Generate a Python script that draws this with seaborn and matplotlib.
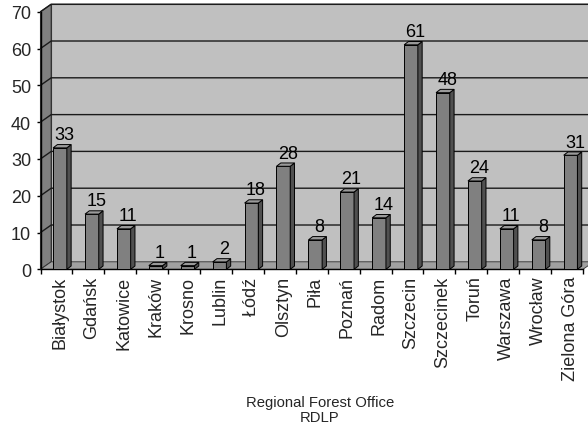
"""Excel-style 3D column chart of counts per Regional Forest Office (RDLP)."""

import matplotlib

matplotlib.use("Agg")

import matplotlib.pyplot as plt
import numpy as np
import pandas as pd
import seaborn as sns
from matplotlib.patches import Polygon

# --- data -----------------------------------------------------------------
offices = [
    "Białystok", "Gdańsk", "Katowice", "Kraków", "Krosno", "Lublin", "Łódź",
    "Olsztyn", "Piła", "Poznań", "Radom", "Szczecin", "Szczecinek", "Toruń",
    "Warszawa", "Wrocław", "Zielona Góra",
]
counts = [33, 15, 11, 1, 1, 2, 18, 28, 8, 21, 14, 61, 48, 24, 11, 8, 31]
y_ticks = [0, 10, 20, 30, 40, 50, 60, 70]
x_title = "Regional Forest Office\nRDLP"

# --- style ----------------------------------------------------------------
BACK_WALL = "#c0c0c0"
SIDE_WALL = "#808080"
FLOOR = "#a0a0a0"
BAR_FRONT = "#808080"
BAR_SIDE = "#505050"
BAR_TOP = "#9a9a9a"
EDGE = "#000000"
FS = 13

sns.set_theme(style="white")
plt.rcParams["font.family"] = ["Liberation Sans", "DejaVu Sans"]

fig = plt.figure(figsize=(5.88, 4.35), dpi=100)
ax = fig.add_axes([0.0689, 0.3786, 0.9226, 0.5922])
ax.patch.set_visible(False)

df = pd.DataFrame({"office": offices, "count": counts})
sns.barplot(
    data=df, x="office", y="count", color=BAR_FRONT, saturation=1,
    width=0.43, edgecolor=EDGE, linewidth=0.7, ax=ax, zorder=5,
)

n = len(offices)
ax.set_xlim(-0.5, n - 0.5)
ax.set_ylim(y_ticks[0], y_ticks[-1])
fig.canvas.draw()


def px_to_data(dx, dy):
    """Convert a pixel offset into data units on this axes."""
    x0, y0 = ax.transData.transform((0, 0))
    x1, y1 = ax.transData.inverted().transform((x0 + dx, y0 + dy))
    return x1, y1


wdx, wdy = px_to_data(10.7, 7.5)   # wall depth
bdx, bdy = px_to_data(4.3, 3.3)    # bar depth
shift = 0.11                       # bars sit a bit right of category centre
left, right = -0.5, n - 0.5
top = y_ticks[-1]

# walls and floor
ax.add_patch(Polygon(
    [(left + wdx, wdy), (right + wdx, wdy), (right + wdx, top + wdy),
     (left + wdx, top + wdy)],
    closed=True, facecolor=BACK_WALL, edgecolor="#303030", lw=0.8,
    zorder=0, clip_on=False,
))
ax.add_patch(Polygon(
    [(left, 0), (left, top), (left + wdx, top + wdy), (left + wdx, wdy)],
    closed=True, facecolor=SIDE_WALL, edgecolor="#303030", lw=0.8,
    zorder=1, clip_on=False,
))
ax.add_patch(Polygon(
    [(left, 0), (right, 0), (right + wdx, wdy), (left + wdx, wdy)],
    closed=True, facecolor=FLOOR, edgecolor="#303030", lw=0.6,
    zorder=1, clip_on=False,
))

# gridlines on side wall and back wall
for v in y_ticks[1:]:
    ax.plot(
        [left, left + wdx, right + wdx], [v, v + wdy, v + wdy],
        color="#1a1a1a", lw=1.0, zorder=2, clip_on=False,
    )

# 3D bars: side and top faces built from the seaborn patches
for patch, value in zip(ax.patches[: n], counts):
    patch.set_x(patch.get_x() + shift)
    x0 = patch.get_x()
    w = patch.get_width()
    h = patch.get_height()
    x1 = x0 + w
    ax.add_patch(Polygon(
        [(x1, 0), (x1, h), (x1 + bdx, h + bdy), (x1 + bdx, bdy)],
        closed=True, facecolor=BAR_SIDE, edgecolor=EDGE, lw=0.7,
        zorder=5, clip_on=False,
    ))
    ax.add_patch(Polygon(
        [(x0, h), (x1, h), (x1 + bdx, h + bdy), (x0 + bdx, h + bdy)],
        closed=True, facecolor=BAR_TOP, edgecolor=EDGE, lw=0.7,
        zorder=5, clip_on=False,
    ))
    ax.annotate(
        f"{value}", (x0 + w / 2 + bdx, h + bdy), xytext=(0, 1.0),
        textcoords="offset points", ha="center", va="bottom",
        fontsize=FS, color="black", zorder=6, annotation_clip=False,
    )

# axes, ticks, labels
for side in ("top", "right"):
    ax.spines[side].set_visible(False)
for side in ("left", "bottom"):
    ax.spines[side].set_color("black")
    ax.spines[side].set_linewidth(1.0)
    ax.spines[side].set_zorder(4)

ax.set_yticks(y_ticks)
ax.set_yticklabels([str(v) for v in y_ticks], fontsize=FS)
ax.tick_params(axis="y", direction="out", length=3.2, width=1.0,
               color="black", pad=3.5, left=True)

ax.set_xticks(np.arange(n) + shift)
ax.set_xticklabels(offices, rotation=90, fontsize=FS, va="top")
ax.set_xticks(np.arange(n + 1) - 0.5, minor=True)
ax.tick_params(axis="x", which="major", length=0, pad=4.5)
ax.tick_params(axis="x", which="minor", direction="out", length=3.4,
               width=1.0, color="black", bottom=True)

ax.set_xlabel(x_title, fontsize=10.7, linespacing=1.05)
ax.xaxis.set_label_coords(0.515, -0.488)
ax.xaxis.label.set_va("top")
ax.set_ylabel("")
ax.grid(False)

fig.savefig("out.png", dpi=100)
